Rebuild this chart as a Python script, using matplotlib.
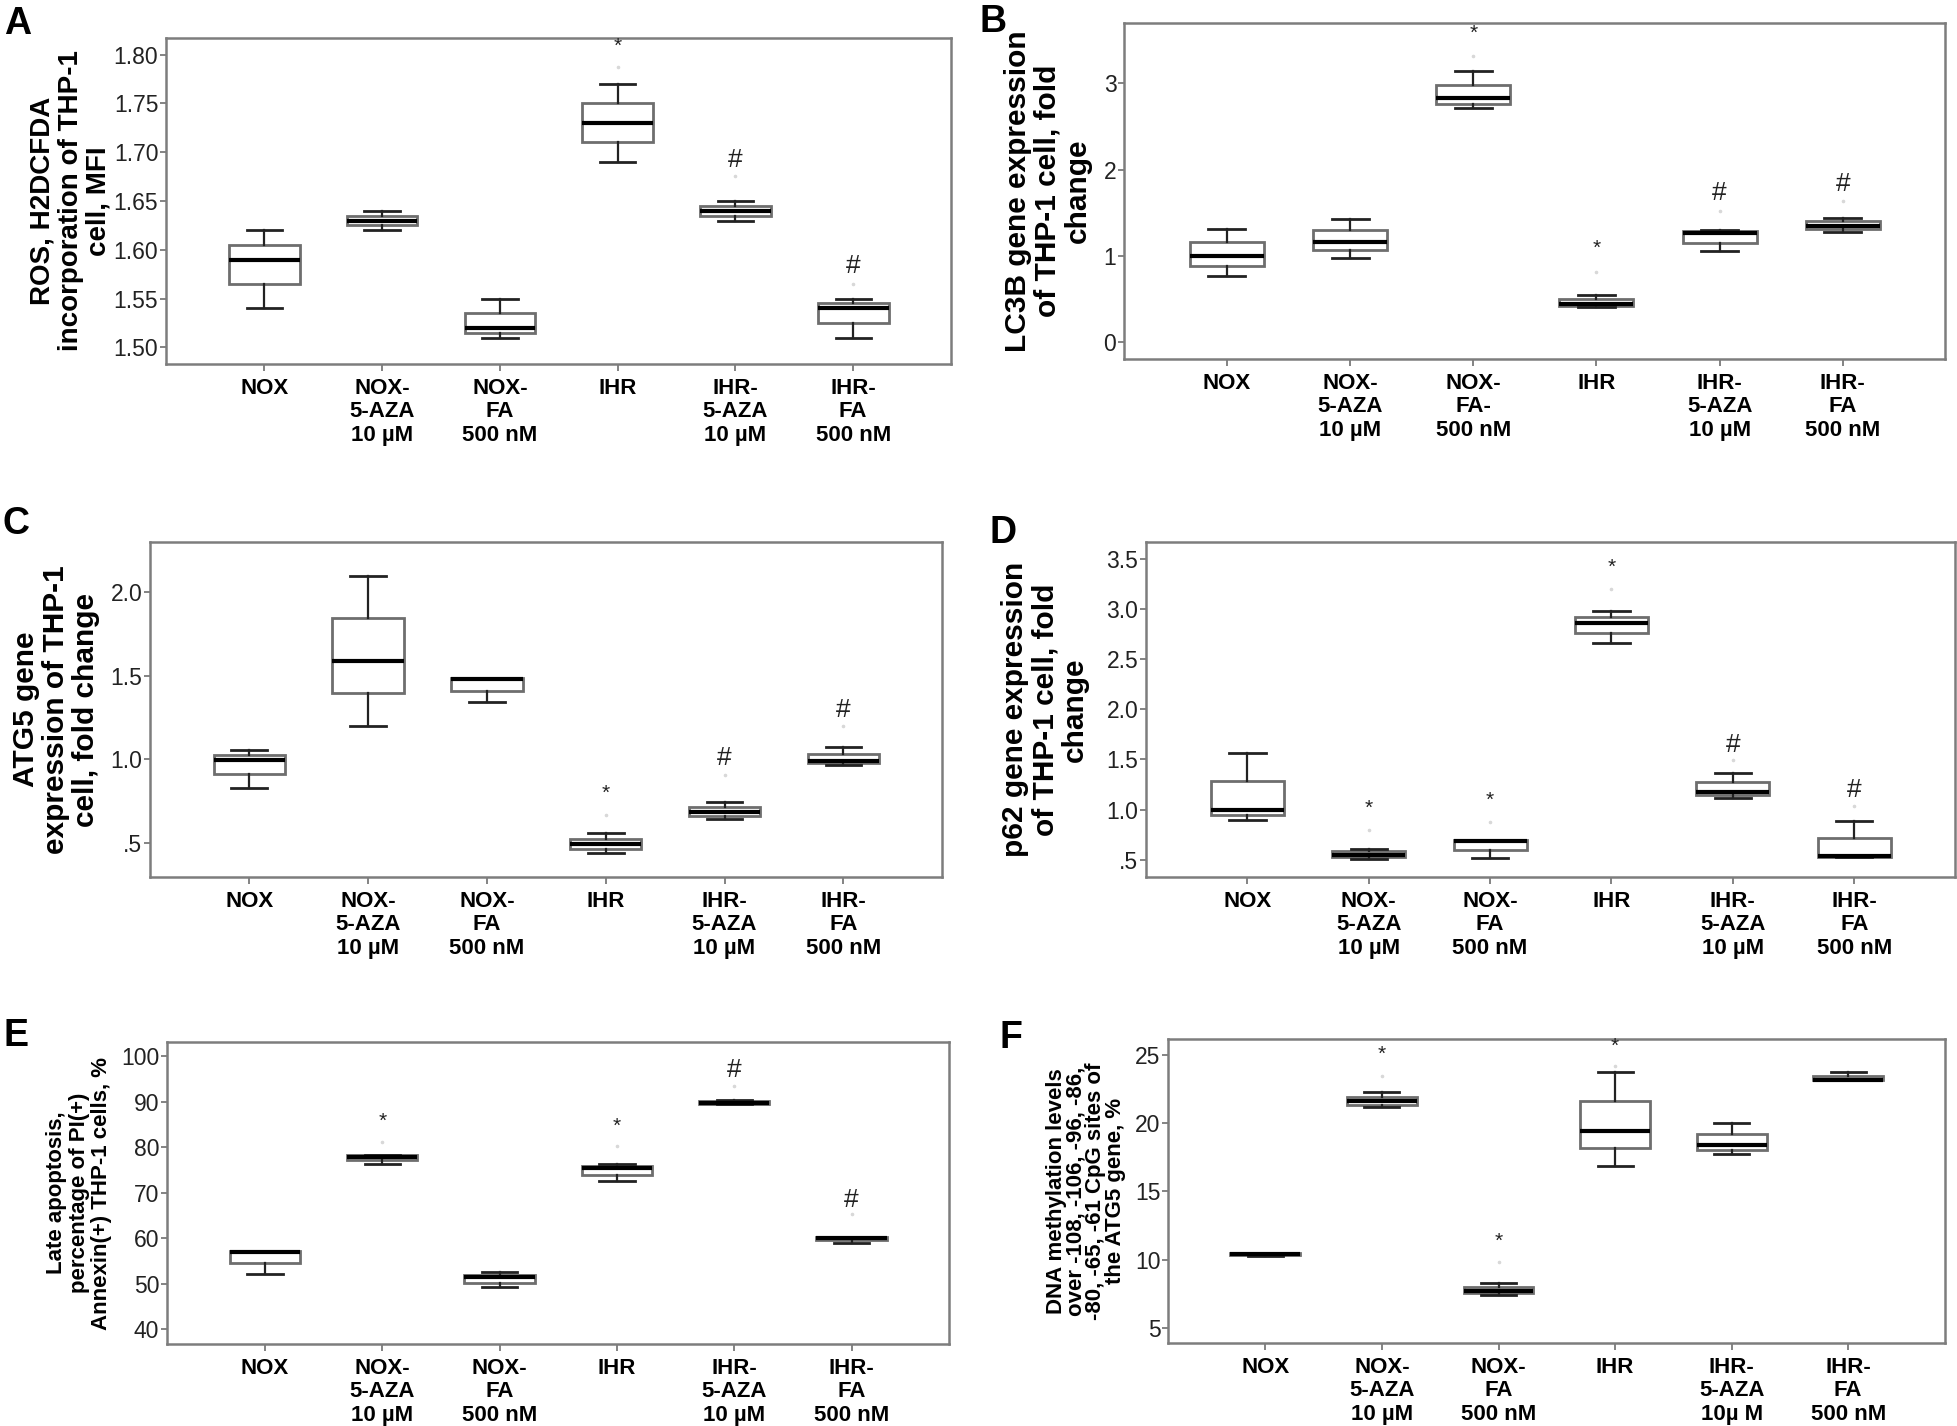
import matplotlib
matplotlib.use("Agg")
import matplotlib.pyplot as plt
from matplotlib.ticker import FuncFormatter

plt.rcParams['font.family'] = ['Liberation Sans', 'DejaVu Sans']

groups_std = ["NOX", "NOX-\n5-AZA\n10 µM", "NOX-\nFA\n500 nM", "IHR", "IHR-\n5-AZA\n10 µM", "IHR-\nFA\n500 nM"]
groups_b = ["NOX", "NOX-\n5-AZA\n10 µM", "NOX-\nFA-\n500 nM", "IHR", "IHR-\n5-AZA\n10 µM", "IHR-\nFA\n500 nM"]
groups_f = ["NOX", "NOX-\n5-AZA\n10 µM", "NOX-\nFA\n500 nM", "IHR", "IHR-\n5-AZA\n10µ M", "IHR-\nFA\n500 nM"]

# Panel A: ROS
a_low = [1.54, 1.62, 1.51, 1.69, 1.63, 1.51]
a_q1 = [1.565, 1.625, 1.515, 1.71, 1.635, 1.525]
a_med = [1.59, 1.63, 1.52, 1.73, 1.64, 1.54]
a_q3 = [1.605, 1.635, 1.535, 1.75, 1.645, 1.545]
a_high = [1.62, 1.64, 1.55, 1.77, 1.65, 1.55]
a_out = [None, None, None, 1.787, 1.676, 1.565]
a_mark = ["", "", "", "*", "#", "#"]
a_mark_y = [None, None, None, 1.808, 1.692, 1.583]

# Panel B: LC3B
b_low = [0.773, 0.982, 2.71, 0.406, 1.055, 1.279]
b_q1 = [0.889, 1.071, 2.764, 0.425, 1.156, 1.314]
b_med = [1.0, 1.167, 2.83, 0.448, 1.264, 1.353]
b_q3 = [1.163, 1.303, 2.984, 0.499, 1.291, 1.403]
b_high = [1.318, 1.434, 3.146, 0.549, 1.303, 1.442]
b_out = [None, None, 3.32, 0.82, 1.527, 1.635]
b_mark = ["", "", "*", "*", "#", "#"]
b_mark_y = [None, None, 3.58, 1.09, 1.728, 1.832]

# Panel C: ATG5
c_low = [0.830, 1.202, 1.343, 0.440, 0.643, 0.967]
c_q1 = [0.914, 1.397, 1.411, 0.466, 0.659, 0.977]
c_med = [0.997, 1.590, 1.480, 0.494, 0.683, 0.989]
c_q3 = [1.027, 1.847, 1.485, 0.526, 0.713, 1.031]
c_high = [1.059, 2.095, 1.485, 0.560, 0.748, 1.075]
c_out = [None, None, None, 0.669, 0.908, 1.20]
c_mark = ["", "", "", "*", "#", "#"]
c_mark_y = [None, None, None, 0.798, 1.007, 1.296]

# Panel D: p62
d_low = [0.899, 0.507, 0.517, 2.657, 1.114, 0.524]
d_q1 = [0.949, 0.524, 0.600, 2.757, 1.141, 0.524]
d_med = [0.998, 0.544, 0.683, 2.863, 1.174, 0.534]
d_q3 = [1.280, 0.584, 0.693, 2.923, 1.270, 0.716]
d_high = [1.562, 0.610, 0.700, 2.982, 1.367, 0.886]
d_out = [None, 0.80, 0.872, 3.198, 1.49, 1.04]
d_mark = ["", "*", "*", "*", "#", "#"]
d_mark_y = [None, 1.015, 1.088, 3.414, 1.645, 1.197]

# Panel E: late apoptosis
e_low = [52.2, 76.3, 49.4, 72.6, 89.5, 59.0]
e_q1 = [54.6, 77.1, 50.3, 74.0, 89.55, 59.6]
e_med = [57.0, 77.8, 51.4, 75.4, 89.8, 60.0]
e_q3 = [57.2, 78.2, 51.9, 75.9, 90.1, 60.3]
e_high = [57.3, 78.4, 52.7, 76.4, 90.3, 60.4]
e_out = [None, 81.2, None, 80.25, 93.5, 65.25]
e_mark = ["", "*", "", "*", "#", "#"]
e_mark_y = [None, 85.6, None, 84.6, 96.9, 68.5]

# Panel F: DNA methylation
f_low = [10.30, 21.15, 7.44, 16.88, 17.73, 23.12]
f_q1 = [10.32, 21.34, 7.54, 18.17, 18.05, 23.13]
f_med = [10.38, 21.59, 7.73, 19.44, 18.41, 23.15]
f_q3 = [10.48, 21.93, 7.98, 21.59, 19.22, 23.41]
f_high = [10.50, 22.29, 8.29, 23.71, 20.0, 23.73]
f_out = [None, 23.46, 9.83, 24.15, None, None]
f_mark = ["", "*", "*", "*", "", ""]
f_mark_y = [None, 25.0, 11.34, 25.6, None, None]

a_ticks = [1.50, 1.55, 1.60, 1.65, 1.70, 1.75, 1.80]
b_ticks = [0, 1, 2, 3]
c_ticks = [0.5, 1.0, 1.5, 2.0]
d_ticks = [0.5, 1.0, 1.5, 2.0, 2.5, 3.0, 3.5]
e_ticks = [40, 50, 60, 70, 80, 90, 100]
f_ticks = [5, 10, 15, 20, 25]

W, H = 1958, 1426
fig = plt.figure(figsize=(W / 100, H / 100), dpi=100)


def rect(l, r, t, b):
    return [l / W, 1 - b / H, (r - l) / W, (b - t) / H]


def fmt_two(v, p):
    return "%.2f" % v


def fmt_int(v, p):
    return "%d" % round(v)


def fmt_lead(v, p):
    s = "%.1f" % v
    return s[1:] if s.startswith("0") else s


panels = [
    dict(letter="A", rect=rect(166, 951, 38, 364), lpos=(4, 6), low=a_low, q1=a_q1, med=a_med, q3=a_q3,
         high=a_high, out=a_out, mark=a_mark, mark_y=a_mark_y, ylim=(1.483, 1.817), ticks=a_ticks, fmt=fmt_two,
         labels=groups_std, ylabel="ROS, H2DCFDA\nincorporation of THP-1\ncell, MFI", ysize=20, yls=1.1,
         ylx=-0.069),
    dict(letter="B", rect=rect(1124, 1945, 23, 359), lpos=(980, 4), low=b_low, q1=b_q1, med=b_med, q3=b_q3,
         high=b_high, out=b_out, mark=b_mark, mark_y=b_mark_y, ylim=(-0.193, 3.70), ticks=b_ticks, fmt=fmt_int,
         labels=groups_b, ylabel="LC3B gene expression\nof THP-1 cell, fold\nchange", ysize=21.5, yls=1.1,
         ylx=-0.039),
    dict(letter="C", rect=rect(150, 942, 542, 877), lpos=(3, 506), low=c_low, q1=c_q1, med=c_med, q3=c_q3,
         high=c_high, out=c_out, mark=c_mark, mark_y=c_mark_y, ylim=(0.297, 2.300), ticks=c_ticks, fmt=fmt_lead,
         labels=groups_std, ylabel="ATG5 gene\nexpression of THP-1\ncell, fold change", ysize=21.5, yls=1.1,
         ylx=-0.063),
    dict(letter="D", rect=rect(1146, 1955, 542, 877), lpos=(990, 515), low=d_low, q1=d_q1, med=d_med, q3=d_q3,
         high=d_high, out=d_out, mark=d_mark, mark_y=d_mark_y, ylim=(0.327, 3.669), ticks=d_ticks, fmt=fmt_lead,
         labels=groups_std, ylabel="p62 gene expression\nof THP-1 cell, fold\nchange", ysize=21.5, yls=1.1,
         ylx=-0.070),
    dict(letter="E", rect=rect(167, 949, 1042, 1344), lpos=(3, 1018), low=e_low, q1=e_q1, med=e_med, q3=e_q3,
         high=e_high, out=e_out, mark=e_mark, mark_y=e_mark_y, ylim=(36.8, 103.1), ticks=e_ticks, fmt=fmt_int,
         labels=groups_std, ylabel="Late apoptosis,\npercentage of PI(+)\nAnnexin(+) THP-1 cells, %", ysize=16,
         yls=1.1, ylx=-0.070),
    dict(letter="F", rect=rect(1168, 1945, 1039, 1343), lpos=(1000, 1020), low=f_low, q1=f_q1, med=f_med, q3=f_q3,
         high=f_high, out=f_out, mark=f_mark, mark_y=f_mark_y, ylim=(3.90, 26.15), ticks=f_ticks, fmt=fmt_int,
         labels=groups_f,
         ylabel="DNA methylation levels\nover -108, -106, -96, -86,\n-80, -65, -61 CpG sites of\nthe ATG5 gene, %",
         ysize=16, yls=0.92, ylx=-0.054),
]

edge = "#6e6e6e"
for p in panels:
    ax = fig.add_axes(p["rect"])
    stats = []
    for i in range(6):
        stats.append(dict(whislo=p["low"][i], q1=p["q1"][i], med=p["med"][i], q3=p["q3"][i],
                          whishi=p["high"][i], fliers=[p["out"][i]] if p["out"][i] is not None else []))
    ax.bxp(stats, positions=list(range(6)), widths=0.6, patch_artist=True, showfliers=True,
           boxprops=dict(facecolor="white", edgecolor=edge, linewidth=2.0),
           medianprops=dict(color="black", linewidth=3.0, solid_capstyle="butt"),
           whiskerprops=dict(color="#222222", linewidth=1.6),
           capprops=dict(color="#222222", linewidth=2.0),
           flierprops=dict(marker="o", markersize=1.6, markerfacecolor="#d8d8d8", markeredgecolor="#d8d8d8"))
    for i in range(6):
        if p["mark"][i]:
            fs = 15 if p["mark"][i] == "*" else 19
            ax.text(i, p["mark_y"][i], p["mark"][i], ha="center", va="center", fontsize=fs, color="#222222")
    ax.set_xlim(-0.835, 5.83)
    ax.set_ylim(*p["ylim"])
    ax.set_yticks(p["ticks"])
    ax.yaxis.set_major_formatter(FuncFormatter(p["fmt"]))
    ax.set_xticks(list(range(6)))
    ax.set_xticklabels(p["labels"], fontsize=16, fontweight="bold", linespacing=1.16, va="top")
    ax.tick_params(axis="y", labelsize=16.5, length=4, width=1.2, color=edge, pad=1.5, labelcolor="#222222")
    ax.tick_params(axis="x", length=5, width=1.2, color=edge, pad=5)
    for s in ax.spines.values():
        s.set_color("#7d7d7d")
        s.set_linewidth(1.8)
    ax.set_ylabel(p["ylabel"], fontsize=p["ysize"], fontweight="bold", linespacing=p["yls"],
                  multialignment="center")
    ax.yaxis.set_label_coords(p["ylx"], 0.5)
    fig.text(p["lpos"][0] / W, 1 - p["lpos"][1] / H, p["letter"], fontsize=27, fontweight="bold",
             ha="left", va="top")

fig.savefig("out.png", dpi=100, facecolor="white")
